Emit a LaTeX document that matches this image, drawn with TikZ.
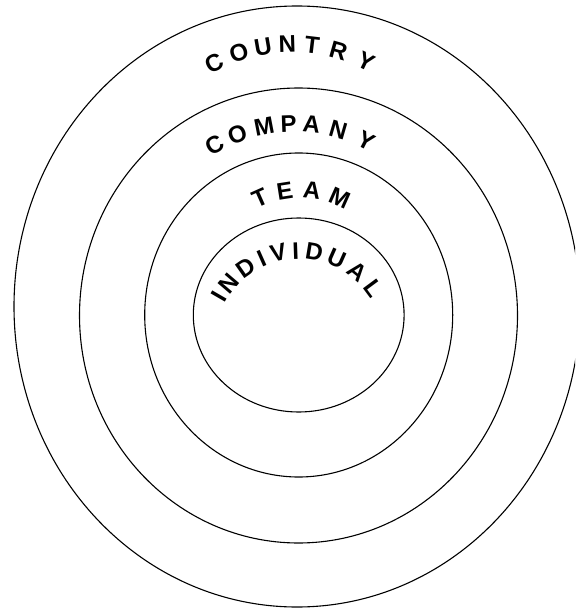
\documentclass[tikz,border=0pt]{standalone}
\usepackage{fontspec}
\setmainfont{Liberation Sans}
\usepackage{tikz}
\usetikzlibrary{calc}

\newcommand{\ringfont}{\fontsize{24}{28}\selectfont\bfseries}

\tikzset{
  ring/.style={draw=black, line width=1.1pt},
  ringletter/.style={font=\ringfont, inner sep=0pt, anchor=base}
}

\begin{document}
\begin{tikzpicture}[x=1pt, y=1pt]
\clip (0,0) rectangle (575,-609);
\useasboundingbox (0,0) rectangle (575,-609);

% rings, outside in
\draw[ring] (297,-306.5) ellipse [x radius=283, y radius=300.5];
\draw[ring] (298.5,-315.5) ellipse [x radius=219, y radius=227.5];
\draw[ring] (298.7,-315) ellipse [x radius=154, y radius=162];
\draw[ring] (298.7,-315) ellipse [x radius=105.4, y radius=97];

% centres of the curved labels
\coordinate (countryc) at (292,-214.5);
\coordinate (companyc) at (294,-282);
\coordinate (teamc) at (300,-288);
\coordinate (indivc) at (299,-343);

% curved labels, one letter at a time
\foreach \ch/\ang [count=\i] in {C/117.3, O/108.2, U/99.8, N/91.6, T/83.2, R/74.2, Y/64.2}
  \node[ringletter, rotate=\ang-90] (country-\i) at ($(countryc)+(\ang:162)$) {\ch};
\foreach \ch/\ang [count=\i] in {C/120.2, O/111.0, M/100.9, P/92.0, A/83.6, N/73.8, Y/62.8}
  \node[ringletter, rotate=\ang-90] (company-\i) at ($(companyc)+(\ang:150)$) {\ch};
\foreach \ch/\ang [count=\i] in {T/114, E/98.9, A/83, M/65.9}
  \node[ringletter, rotate=\ang-90] (team-\i) at ($(teamc)+(\ang:90)$) {\ch};
\foreach \ch/\ang [count=\i] in {I/150, N/139.5, D/125, I/114, V/103, I/92, D/80.5, U/66, A/51, L/36.5}
  \node[ringletter, rotate=\ang-90] (indiv-\i) at ($(indivc)+(\ang:84)$) {\ch};
\end{tikzpicture}
\end{document}
